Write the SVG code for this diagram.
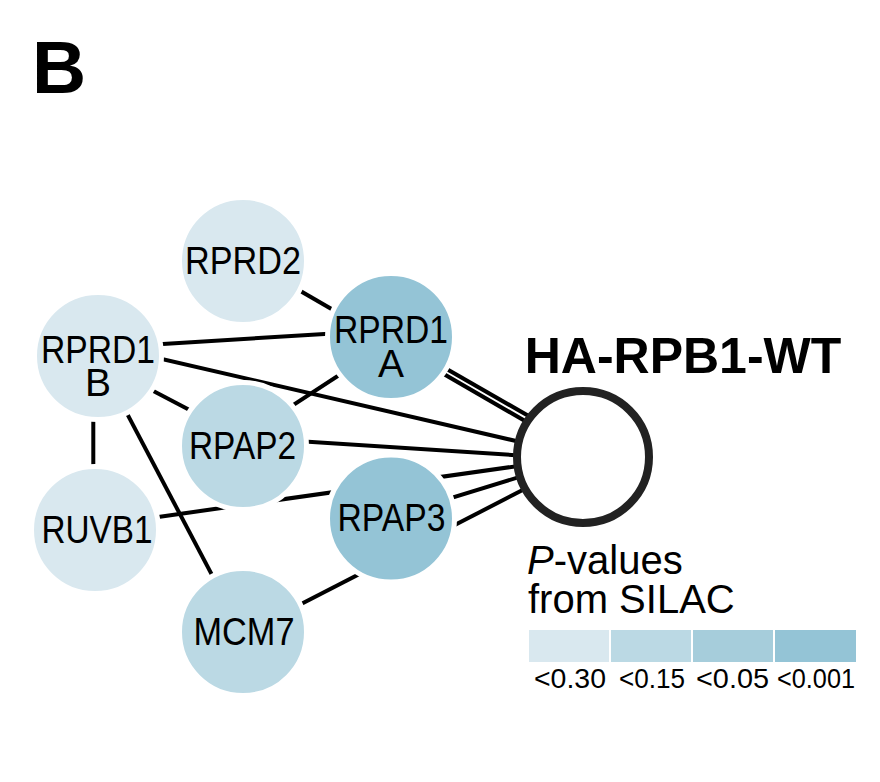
<svg xmlns="http://www.w3.org/2000/svg" width="880" height="782" viewBox="0 0 880 782">
<style>
.edge{stroke:#000;stroke-width:4;fill:none}
.node{stroke:#fff;stroke-width:5}
.c1{fill:#d9e8ef}
.c2{fill:#bbd9e4}
.c3{fill:#a6cddb}
.c4{fill:#94c4d6}
.lbl{font-family:"Liberation Sans",Arial,sans-serif;font-size:39px;fill:#000;text-anchor:middle}
.leg{font-family:"Liberation Sans",Arial,sans-serif;font-size:28px;fill:#000;text-anchor:middle}
</style>
<rect width="880" height="782" fill="#fff"/>
<text x="32" y="93" font-family="Liberation Sans,Arial,sans-serif" font-size="75" font-weight="bold">B</text>
<g id="connectors">
<line class="edge" x1="245" y1="258.9" x2="583" y2="454.6"/>
<line class="edge" x1="391" y1="336.9" x2="583" y2="447.3"/>
<line class="edge" x1="98" y1="347.9" x2="391" y2="330"/>
<line class="edge" x1="98" y1="344.2" x2="583" y2="456.5"/>
<line class="edge" x1="98" y1="362.1" x2="243" y2="437.9"/>
<line class="edge" x1="93.3" y1="356" x2="93.3" y2="530"/>
<line class="edge" x1="98" y1="358.4" x2="243" y2="633.9"/>
<line class="edge" x1="243" y1="437.8" x2="391" y2="341.3"/>
<line class="edge" x1="243" y1="437.5" x2="583" y2="459.6"/>
<line class="edge" x1="95" y1="525.9" x2="583" y2="456.8"/>
<line class="edge" x1="391" y1="516.5" x2="583" y2="457.4"/>
<line class="edge" x1="243" y1="634" x2="583" y2="459"/>
</g>
<g id="node-RPRD2">
<circle class="node c1" cx="243" cy="261" r="63.5"/>
<text class="lbl" x="243" y="274" textLength="116" lengthAdjust="spacingAndGlyphs">RPRD2</text>
</g>
<g id="node-RPRD1A">
<circle class="node c4" cx="391" cy="337" r="63.5"/>
<text class="lbl"><tspan x="391" y="343" textLength="114" lengthAdjust="spacingAndGlyphs">RPRD1</tspan><tspan x="391" y="377">A</tspan></text>
</g>
<g id="node-RPRD1B">
<circle class="node c1" cx="98" cy="356" r="63.5"/>
<text class="lbl"><tspan x="98" y="363" textLength="114" lengthAdjust="spacingAndGlyphs">RPRD1</tspan><tspan x="98" y="396">B</tspan></text>
</g>
<g id="node-RPAP2">
<circle class="node c2" cx="243" cy="446" r="63.5"/>
<text class="lbl" x="242.5" y="459" textLength="107" lengthAdjust="spacingAndGlyphs">RPAP2</text>
</g>
<g id="node-RUVB1">
<circle class="node c1" cx="95" cy="530" r="63.5"/>
<text class="lbl" x="97" y="543" textLength="111" lengthAdjust="spacingAndGlyphs">RUVB1</text>
</g>
<g id="node-RPAP3">
<circle class="node c4" cx="391" cy="518.5" r="63.5"/>
<text class="lbl" x="391.5" y="531" textLength="108" lengthAdjust="spacingAndGlyphs">RPAP3</text>
</g>
<g id="node-MCM7">
<circle class="node c2" cx="243" cy="632" r="63.5"/>
<text class="lbl" x="244" y="645" textLength="101" lengthAdjust="spacingAndGlyphs">MCM7</text>
</g>
<g id="node-HA-RPB1-WT">
<circle cx="583" cy="457" r="66" fill="#fff" stroke="#222" stroke-width="8"/>
<text x="683" y="373" font-family="Liberation Sans,Arial,sans-serif" font-size="50" font-weight="bold" text-anchor="middle">HA-RPB1-WT</text>
</g>
<g id="legend">
<text font-family="Liberation Sans,Arial,sans-serif" font-size="40"><tspan x="527" y="574"><tspan font-style="italic">P</tspan>-values</tspan><tspan x="528" y="613">from SILAC</tspan></text>
<rect class="c1" x="529" y="630" width="80" height="32"/>
<rect class="c2" x="611" y="630" width="80" height="32"/>
<rect class="c3" x="693" y="630" width="80" height="32"/>
<rect class="c4" x="775" y="630" width="81" height="32"/>
<text class="leg" x="570" y="688" textLength="72" lengthAdjust="spacingAndGlyphs">&lt;0.30</text>
<text class="leg" x="652" y="688" textLength="66" lengthAdjust="spacingAndGlyphs">&lt;0.15</text>
<text class="leg" x="732.5" y="688" textLength="73" lengthAdjust="spacingAndGlyphs">&lt;0.05</text>
<text class="leg" x="816" y="688" textLength="78" lengthAdjust="spacingAndGlyphs">&lt;0.001</text>
</g>
</svg>
